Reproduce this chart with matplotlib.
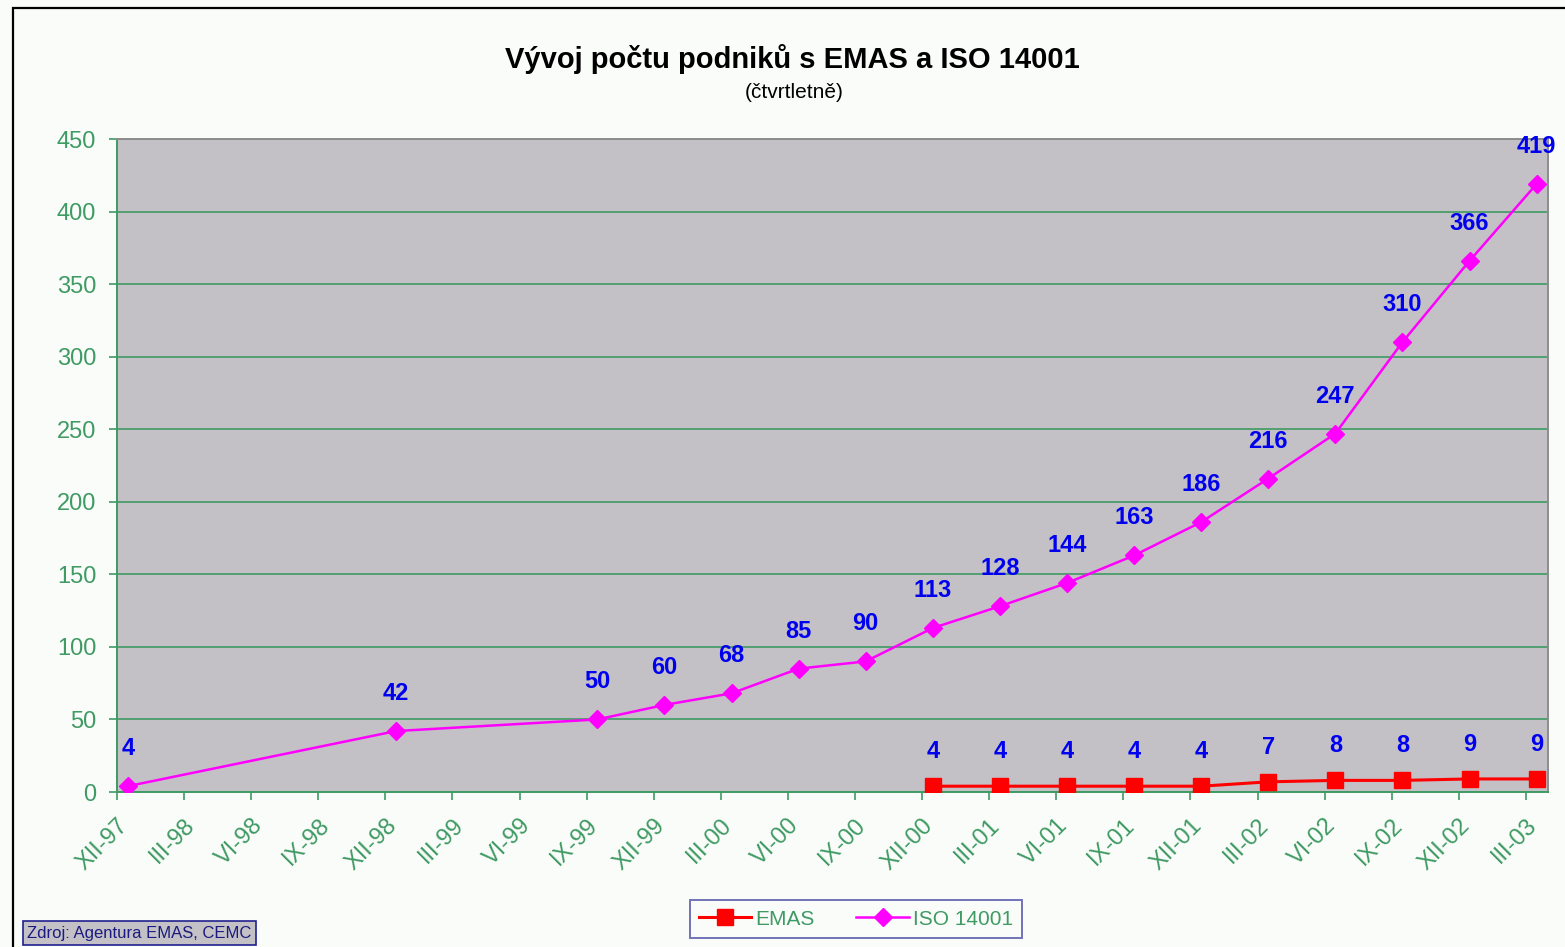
import matplotlib.pyplot as plt
import matplotlib.patches as patches

# data
categories = ['XII-97', 'III-98', 'VI-98', 'IX-98', 'XII-98', 'III-99', 'VI-99',
              'IX-99', 'XII-99', 'III-00', 'VI-00', 'IX-00', 'XII-00', 'III-01',
              'VI-01', 'IX-01', 'XII-01', 'III-02', 'VI-02', 'IX-02', 'XII-02',
              'III-03']
iso_quarters = ['XII-97', 'XII-98', 'IX-99', 'XII-99', 'III-00', 'VI-00', 'IX-00',
                'XII-00', 'III-01', 'VI-01', 'IX-01', 'XII-01', 'III-02', 'VI-02',
                'IX-02', 'XII-02', 'III-03']
iso_values = [4, 42, 50, 60, 68, 85, 90, 113, 128, 144, 163, 186, 216, 247, 310, 366, 419]
emas_quarters = ['XII-00', 'III-01', 'VI-01', 'IX-01', 'XII-01', 'III-02', 'VI-02',
                 'IX-02', 'XII-02', 'III-03']
emas_values = [4, 4, 4, 4, 4, 7, 8, 8, 9, 9]

green = '#3f9a63'
W, H = 1565, 947
fig = plt.figure(figsize=(W / 100, H / 100), dpi=100)
fig.patch.set_facecolor('#fafcfa')
plt.rcParams['font.family'] = ['Liberation Sans', 'DejaVu Sans']

# outer frame
fig.add_artist(patches.Rectangle((13 / W, -0.05), 1.2, 1 - 8 / H + 0.05,
                                 transform=fig.transFigure, fill=False,
                                 edgecolor='black', linewidth=1.6))

ax = fig.add_axes([117 / W, 1 - 792 / H, (1548 - 117) / W, (792 - 139) / H])
ax.set_facecolor('#c3c1c5')

# points sit a bit to the right of the tick (date axis in the original)
off = 0.16
ix = [categories.index(q) + off for q in iso_quarters]
ex = [categories.index(q) + off for q in emas_quarters]

ax.plot(ex, emas_values, color='#ff0000', lw=2.2, marker='s', markersize=11.5,
        label='EMAS', zorder=3)
ax.plot(ix, iso_values, color='#ff00ff', lw=1.8, marker='D', markersize=9.5,
        label='ISO 14001', zorder=4)

for x, v in zip(ix, iso_values):
    ax.annotate(str(v), (x, v), xytext=(0, 27), textcoords='offset points',
                ha='center', va='center', color='#0000ee', fontsize=17,
                fontweight='bold')
for x, v in zip(ex, emas_values):
    ax.annotate(str(v), (x, v), xytext=(0, 25), textcoords='offset points',
                ha='center', va='center', color='#0000ee', fontsize=17,
                fontweight='bold')

ax.set_xlim(0, 21.33)
ax.set_ylim(0, 450)
ax.set_yticks(range(0, 451, 50))
ax.set_xticks(range(len(categories)))
ax.set_xticklabels(categories, rotation=45, ha='right', va='top',
                   rotation_mode='anchor')
ax.tick_params(axis='both', colors=green, labelcolor=green, labelsize=17,
               length=6, width=1.2)
ax.tick_params(axis='x', pad=10)
ax.tick_params(axis='y', pad=9)
ax.grid(axis='y', color=green, lw=1.2)
ax.set_axisbelow(True)
for s in ['left', 'bottom']:
    ax.spines[s].set_color(green)
    ax.spines[s].set_linewidth(1.4)
for s in ['top', 'right']:
    ax.spines[s].set_color('#8c8c8c')
    ax.spines[s].set_linewidth(1.4)

fig.text(792 / W, 1 - 59 / H, 'Vývoj počtu podniků s EMAS a ISO 14001',
         ha='center', va='center', fontsize=21, fontweight='bold')
fig.text(794 / W, 1 - 92 / H, '(čtvrtletně)', ha='center', va='center', fontsize=15)

leg = fig.legend(loc='center', bbox_to_anchor=(856 / W, 1 - 919 / H), ncol=2,
                 frameon=True, fancybox=False, fontsize=15, handlelength=2.5,
                 columnspacing=2.0, borderpad=0.45, handletextpad=0.2)
leg.get_frame().set_edgecolor('#5050a8')
leg.get_frame().set_facecolor('#fafcfa')
leg.get_frame().set_linewidth(1.4)
for t in leg.get_texts():
    t.set_color(green)

fig.text(27 / W, 1 - 933 / H, 'Zdroj: Agentura EMAS, CEMC', ha='left', va='center',
         fontsize=12, color='#1a1a80',
         bbox=dict(boxstyle='square,pad=0.25', facecolor='#c3c1c5',
                   edgecolor='#202090', linewidth=1.2))

fig.savefig('out.png', dpi=100, facecolor=fig.get_facecolor())
